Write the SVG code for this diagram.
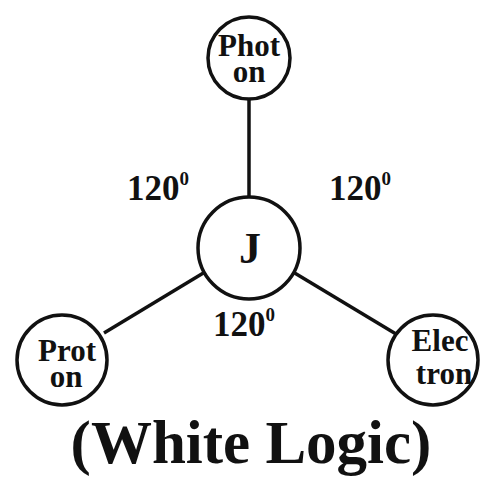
<svg xmlns="http://www.w3.org/2000/svg" width="489" height="479" viewBox="0 0 489 479">
<style>
.n{fill:#fff;stroke:#111;stroke-width:3.5}
.c{stroke:#111;stroke-width:3.5;fill:none}
.t{font-family:"Liberation Serif","Times New Roman",serif;font-weight:bold;fill:#111;text-anchor:middle}
.s{font-size:31px}
.a{font-family:"Liberation Serif","Times New Roman",serif;font-weight:bold;fill:#111;font-size:35px}
.sup{font-size:19px}
</style>
<rect width="489" height="479" fill="#fff"/>
<g id="connectors">
<line class="c" x1="249" y1="99" x2="249" y2="199"/>
<line class="c" x1="205" y1="272" x2="104" y2="333"/>
<line class="c" x1="293" y1="272" x2="396" y2="334"/>
</g>
<g id="photon"><circle class="n" cx="249" cy="58" r="41"/><text class="t s" x="249" y="56">Phot</text><text class="t s" x="249" y="82">on</text></g>
<g id="j"><circle class="n" cx="249" cy="248" r="51"/><text class="t" x="250" y="263" font-size="44">J</text></g>
<g id="proton"><circle class="n" cx="62" cy="360" r="45"/><text class="t s" x="67" y="361">Prot</text><text class="t s" x="66" y="387">on</text></g>
<g id="electron"><circle class="n" cx="433" cy="360" r="45"/><text class="t s" x="440" y="351">Elec</text><text class="t s" x="444" y="384">tron</text></g>
<g id="labels">
<text class="a" x="127" y="200">120<tspan class="sup" dy="-15">0</tspan></text>
<text class="a" x="329" y="200">120<tspan class="sup" dy="-15">0</tspan></text>
<text class="a" x="213" y="336">120<tspan class="sup" dy="-15">0</tspan></text>
<text class="t" x="251" y="463" font-size="61">(White Logic)</text>
</g>
</svg>
